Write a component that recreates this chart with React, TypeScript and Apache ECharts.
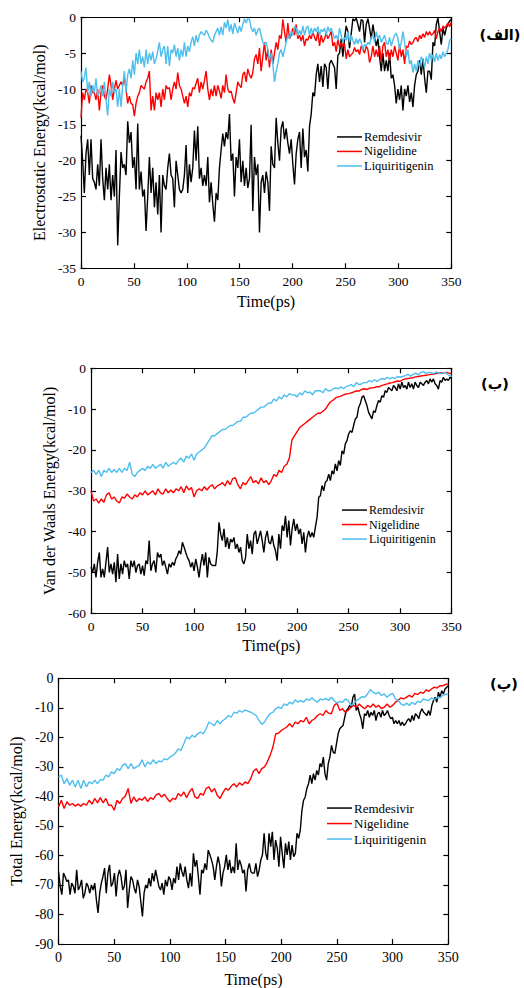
import React, { useEffect, useRef } from "react";
import * as echarts from "echarts";

// ---------------- DATA ----------------
const timeMax = 350;
const timeTicks = [0, 50, 100, 150, 200, 250, 300, 350];
const seriesNames = ["Remdesivir", "Nigelidine", "Liquiritigenin"];
const panelLabels = ["(الف)", "(ب)", "(پ)"];
const yNames = ["Electrostatic Energy(kcal/mol)", "Van der Waals Energy(kcal/mol)", "Total Energy(kcal/mol)"];
const yMins = [-35, -60, -90];
const yIntervals = [5, 10, 10];

// Electrostatic energy (values evenly spaced over 0–350 ps)
const elecRemdesivir = [
  -16.5,-20,-24.5,-19,-17,-22,-17,-22.5,-23,-24,
  -20.5,-23.5,-17,-22.5,-25.5,-21,-24,-20.5,-25.5,-22,
  -25,-18.5,-31.8,-25,-18.8,-21,-20.5,-22,-14.5,-17.5,
  -16,-21,-19.5,-24,-14.8,-24,-21.5,-25,-24,-29.8,
  -25,-19.5,-24.5,-21,-26.5,-23,-27.5,-22,-30,-22,
  -23.5,-24,-21,-19,-22,-22.5,-26.5,-20,-22,-24,
  -24.5,-24,-22,-17.8,-24.5,-20.5,-23,-21,-15.8,-20,
  -15.2,-22.5,-21,-23.5,-22,-23.5,-19.5,-25.8,-23,-26,
  -28.5,-24.5,-25.5,-21,-18.5,-16.2,-18,-16,-17,-13.5,
  -20,-19,-25,-19.5,-21,-17,-23,-20,-23.5,-21,
  -23.8,-22.5,
  -15,-27,-19.5,-22,-20.5,-30,-23,-22,-24.5,-21.5,
  -23,-27,-18,-20.5,-21,-14,-17.5,-20,-15.5,-14.5,
  -17,-15.5,-17.5,-19,-17,-20.5,-23.3,-19,-17,-16,
  -21,-15.5,-19.5,-18.5,-21.5,-15.2,-13.5,-10.5,-11,-8,
  -6.5,-9,-6.8,-9.7,-6.5,-7,-10,-6.5,-6,-6.5,
  -7,-10,-5.3,-5,-3,-5.5,-3,-1.2,-2,-4.3,
  -2.3,-0.2,-0.5,-0.1,-1,-2,-0.3,-0.5,-3.5,-1,
  -0.2,-1.5,-3,-1,-2.5,-4,-3,-5.5,-7.5,-5,
  -7.5,-6,-7.5,-5,-8.5,-8,-9.5,-12,-10,-11.5,
  -9.5,-13,-10,-11,-9.5,-11.8,-10.5,-12.5,-9.5,-8,
  -7.5,-6,-8,-5.8,-8.5,-10.5,-7.5,-7.5,-8.7,-3.5,
  -4,-1,-0.1,-2,-3.8,-1.5,-2.5,-1.5,-1,-0.5,
  -0.3,
];
const elecNigelidine = [
  -14,-10.5,-11.5,-10,-10.5,-12,-9.5,-10.5,-10.5,-11.5,
  -10,-13,-10.5,-9.5,-11,-11.5,-10,-8,-9.5,-11.5,
  -10,-8.8,-10,-9.5,-9,-9.5,-8.5,-10,-12,-11,
  -12,-12.2,-13.8,-12,-11,-10.5,-9.5,-9.8,-10,-9,
  -8.5,-7.5,-13,-11,-13,-10.5,-11.5,-10.5,-12.5,-10,
  -11.5,-9.5,-10,-9.8,-11.5,-10,-9,-10,-7.7,-9.5,
  -10,-11,-12,-11,-12.5,-10.5,-11,-9.8,-10,-9.2,
  -8.5,-10.5,-9,-10,-8.8,-7.5,-10,-11.5,-10,-11,
  -9.5,-11,-9.5,-10.3,-11.3,-9.5,-10.5,-8,-10,-10.5,
  -10.3,-11.3,-12,-10.5,-9,-9.5,-9.8,-8,-7.6,-9,
  -7.2,-8,
  -8.5,-7.7,-5.8,-5.2,-6.5,-4.3,-7.5,-5.5,-3.5,-6,
  -4.5,-7,-4.5,-6.5,-5,-3.5,-4.5,-2.5,-3,-0.3,
  -2,-3.5,-0.8,-3,-2.5,-1.5,-2.5,-1,-3,-2.5,
  -3.3,-2.5,-4,-3,-3.2,-2.5,-3,-2,-2.8,-3.3,
  -2,-4,-2.5,-3.5,-3,-2.2,-3,-2.5,-2,-4,
  -3.5,-4.8,-3,-4.2,-3.5,-4,-3.7,-5.8,-4.5,-5.5,
  -5.2,-5,-4.2,-4.8,-4.5,-5.2,-4,-4.5,-5,-4,
  -4.5,-6.3,-5.5,-4,-5.5,-4.5,-5.5,-4,-6.2,-4,
  -3.5,-5.5,-4.5,-6,-4.5,-5.5,-4,-5,-6,-3.8,
  -5.5,-4.5,-6.5,-4,-4.2,-3.3,-3.8,-3.5,-3,-2.8,
  -3.4,-2.5,-3,-2.3,-2.8,-2,-2.5,-2,-2.5,-2.3,
  -1.8,-3,-2,-1.5,-2,-1.2,-1.5,-1.2,-0.8,-1.3,
  -0.7,
];
const elecLiquiritigenin = [
  -7.5,-9,-8.5,-7,-10.5,-9,-11,-9.5,-10.5,-8.5,
  -11,-10.5,-9.5,-11,-9,-11.5,-13.7,-10,-11,-9,
  -10.5,-10,-12.5,-10,-12.5,-9.5,-7.5,-10.5,-8,-7.2,
  -8.5,-6,-8,-5,-6.5,-4.5,-6.5,-5.5,-7,-4.5,
  -6.5,-5,-6,-4.8,-6.5,-5.8,-4.7,-3.5,-5.5,-4.5,
  -4,-6.5,-4,-6.8,-4.5,-5,-3.8,-5.5,-4.3,-6,
  -4.5,-5.5,-3.5,-5.5,-4,-4.8,-3.5,-2.7,-4,-2.5,
  -3.5,-2.5,-2,-2.3,-2.5,-1.8,-2.2,-2.8,-3.2,-3.5,
  -2.5,-2,-1.5,-2.5,-1.3,-2.5,-0.7,-1.5,-0.3,-2,
  -1,-2.3,-0.8,-1.5,-2.2,-1.2,-2,-1,-0.2,-0.8,
  -0.1,-0.3,
  -1.5,-2,-1.5,-2.5,-1.8,-1.5,-2.5,-3.5,-3.8,-3.5,
  -4.5,-6,-5,-6.5,-9,-7.5,-6.5,-5,-4.5,-5.5,
  -4.5,-3.5,-2.5,-3,-2,-2.5,-1.3,-1.5,-2.5,-1.8,
  -2.5,-1.2,-2.5,-1.5,-1.2,-2.5,-1.5,-2.3,-1.5,-2,
  -1.3,-2.5,-1.7,-2,-1.5,-2.5,-1.3,-2,-1.5,-2.2,
  -3,-2.5,-3.2,-1.5,-2.5,-3.5,-2.8,-3.2,-2,-3.5,
  -2.5,-3.2,-3.8,-3,-3.7,-3,-3.5,-4.5,-3.8,-4,
  -3.5,-3.8,-2.8,-2.5,-3.5,-2,-3,-2.5,-3.5,-3,
  -2.5,-3.5,-3.8,-2.8,-4,-3.2,-2.5,-2.2,-3,-4.5,
  -3.5,-2,-3.5,-5.5,-4.5,-6.5,-6,-7.7,-6.5,-7.5,
  -6,-7,-5.5,-6,-7,-5.5,-6.5,-5,-6,-5.2,
  -6.2,-5,-6,-5.2,-5.8,-4.8,-5.5,-5,-4.5,-3.2,
  -3,
];

// Van der Waals energy
const vdwRemdesivir = [
  -48.7,-50,-47.9,-51.2,-47.5,-45.1,-51.2,-49.1,-51.2,-47.5,
  -43.8,-50,-47.9,-50.4,-47.5,-52.4,-45.5,-51.6,-47.9,-50.4,
  -47.1,-48.7,-47.9,-51.6,-47.1,-48.7,-47.1,-50,-48.3,-47.9,
  -50.4,-48.3,-50.8,-47.1,-47.9,-42.2,-49.6,-47.9,-47.1,-50,
  -45.1,-46.3,-45.5,-48.3,-47.1,-48.7,-50.4,-47.9,-48.7,-47.5,
  -48.3,-46.7,-45.9,-44.7,-45.5,-42.6,-43.8,-45.1,-46.3,-47.1,
  -48.7,-47.5,-49.6,-46.7,-48.7,-51.2,-47.9,-45.5,-48.3,-45.1,
  -51.2,-46.3,-47.9,-48.3,-48.3,-48.3,-44.7,-37.7,-40.6,-42.2,
  -39.3,-43.8,-41.4,-44.2,-41.8,-42.6,-41.4,-44.2,-43,-45.1,
  -43.8,-47.1,-47.9,-46.3,-40.6,-44.2,-42.2,-45.5,-40.6,-39.8,
  -43,-41.4,-39.8,-42.2,-45.1,-41.4,-39.8,-42.6,-43,-41,
  -43.4,
  -44.7,-47.1,-40.6,-44.2,-38.5,-39.8,-36.1,-41.4,-37.3,-43.4,
  -39.3,-36.9,-39.8,-38.1,-40.6,-39.3,-43,-40.2,-45.1,-41.4,
  -39.8,-41.4,-40.2,-41.4,-38.9,-36.5,-31.6,-31.2,-28.7,-30,
  -27.9,-27.5,-25.9,-27.5,-25.1,-25.9,-23.4,-25.1,-22.6,-23.8,
  -20.2,-21,-18.5,-17.7,-16.1,-15.3,-15.7,-14,-12.4,-12,
  -9.6,-8.7,-7.1,-6.7,-7.9,-9.1,-10.8,-11.6,-12.4,-10.4,
  -10.8,-9.1,-7.9,-8.3,-6.7,-7.1,-5.5,-5.9,-4.7,-5.1,
  -5.5,-4.2,-4.7,-5.5,-3.8,-5.1,-3.4,-4.7,-4.2,-5.1,
  -3.4,-4.7,-3.8,-5.1,-3.4,-4.2,-4.7,-3.4,-3.8,-4.2,
  -3.4,-3,-3.8,-2.6,-3.4,-2.6,-3.8,-4.2,-5.1,-3,
  -3.4,-2.2,-3,-2.6,-3,-2.2,-2.6,
];
const vdwNigelidine = [
  -30,-32.5,-32,-33,-32,-32.8,-31,-30.5,-32,-31.5,
  -32.5,-33,-31.5,-31.8,-30.8,-31.5,-32,-31,-31.5,-30.5,
  -31,-30,-31,-30.5,-30,-31,-29.5,-30.5,-30.8,-29.5,
  -30.5,-29.8,-30.5,-29.5,-30,-29,-30.5,-28.8,-29.8,-29.2,
  -31.5,-30,-29.5,-30,-29,-29.8,-29,-28.5,-29.5,-28.8,
  -28.5,-28,-28.8,-27.5,-28.5,-27,-26.8,-28.5,-29.5,-28,
  -28.5,-27.5,-26.5,-28,-27.5,-28.3,-26.8,-28,-27.5,-28.5,
  -27.5,-26,-26.5,-25,-25.5,-24,-23.5,-22,-17.5,-16.5,
  -15.5,-14.5,-14,-13.5,-13,-12.5,-12,-11.5,-11,-11,
  -10.5,-10,-9,-8.2,-7.8,-7.2,-7,-6.8,-6.5,-6.3,
  -6.2,-6,-5.8,-5.5,-5.6,-5.2,-5,-5.2,-4.9,-4.8,
  -4.7,-4.5,-4.5,-4.2,-4,-3.8,-3.6,-3.5,-3.3,-3.1,
  -3.2,-2.8,-2.6,-2.5,-2.4,-2.3,-2.1,-2,-1.9,-1.8,
  -1.7,-1.6,-1.5,-1.4,-1.3,-1.2,-1.1,-1.1,-1,-1.2,
  -1.4,
];
const vdwLiquiritigenin = [
  -25.5,-25,-26,-25,-26.5,-25,-25.5,-24.5,-25.5,-24.8,
  -25.5,-24.5,-25.5,-24.5,-25,-23,-26,-26.5,-25.5,-25,
  -24.5,-25,-24,-24.5,-23.5,-24.5,-24,-23.5,-24.5,-23,
  -24,-23.5,-23,-23.5,-22.5,-22,-23,-21.5,-22,-21,
  -22.5,-21,-20.5,-20,-19.5,-18.5,-17.5,-16.5,-16.5,-16,
  -15.5,-15,-15,-14.5,-14,-14,-13.5,-13,-13,-12,
  -12,-11.5,-11,-11,-10.5,-10,-9.5,-9.5,-9,-8.5,
  -8.5,-7.5,-8,-7,-7.5,-6.5,-7,-6.2,-6.5,-6.5,
  -7,-6,-6.5,-5.5,-6,-5.8,-6.5,-5.5,-5.5,-5.5,
  -6,-5,-5.5,-5.5,-5,-4.8,-5,-4.5,-5,-4.5,
  -4.3,-4,-4.5,-3.5,-4,-3.8,-3.5,-3.5,-3,-3.3,
  -2.8,-3.2,-2.8,-2.5,-2.7,-2.2,-2.6,-2.2,-2.5,-2,
  -2.2,-2,-1.8,-1.5,-1.9,-1.5,-1.2,-1.6,-1,-0.8,
  -1.3,-1,-1.1,-1.3,-0.9,-1.2,-1.3,-1,-1.2,-1.8,
  -2,
];

// Total energy
const totRemdesivir = [
  -65.5,-70.5,-73.3,-66,-67.2,-68.8,-68.3,-73.3,-69.4,-70.5,
  -72.8,-64.9,-71.7,-70.5,-68.3,-74.5,-72.8,-69.4,-70.5,-72.8,
  -70,-71.7,-69.4,-75,-79.5,-72.8,-69.4,-67.2,-64.3,-72.8,
  -66,-63.2,-70.5,-69.4,-66,-73.9,-67.2,-64.9,-67.2,-71.7,
  -70.5,-64.9,-77.8,-71.7,-67.2,-68.3,-71.1,-72.8,-68.3,-70.5,
  -75.6,-80.7,-72.8,-70,-71.1,-67.7,-70.5,-66,-68.8,-64.9,
  -67.7,-70.5,-71.7,-69.4,-73.3,-68.3,-70.5,-67.2,-68.3,-71.7,
  -67.7,-69.4,-63.8,-68.3,-62.7,-65.5,-67.2,-63.8,-68.3,-71.1,
  -66,-70.5,-59.3,-63.8,-61.6,-67.2,-73.3,-64.9,-66,-62.7,
  -64.9,-58.2,-59.8,-61.5,-63.8,-68.3,-63.8,-60.4,-63.2,-70.5,
  -66,-63.8,-59.8,-64.9,-61.5,-66,-63.8,-66,-55.9,-64.9,
  -61.5,-63.2,-66,-64.9,-72.2,-64.9,-62.7,-65.5,-66,
  -66,-62.7,-67.2,-64.9,-61.5,-59.8,-52.5,-59.3,-61.5,-52.5,
  -57,-52,-61.5,-54.8,-57.6,-63.8,-53.7,-59.3,-64.3,-55.9,
  -59.8,-55.3,-61.5,-56.5,-60.4,-59.3,-52.5,-54.2,-51.4,-44.7,
  -41.3,-40.2,-37.3,-35.7,-32.8,-35.7,-32.3,-34.5,-31.2,-32.8,
  -28.9,-30,-26.7,-32.3,-34.5,-28.9,-26.7,-22.7,-25,-25.5,
  -22.2,-18.8,-17.1,-16.5,-16,-13.2,-10.9,-10.3,-9.2,-9.8,
  -6.4,-5.3,-10.9,-9.8,-12,-13.7,-17.1,-12,-12.6,-10.9,
  -13.2,-11.5,-12.6,-10.9,-14.3,-12,-11.5,-13.2,-10.9,-12.6,
  -12,-10.9,-12.6,-13.7,-13.2,-15.4,-14.3,-15.4,-14.3,-16,
  -14.8,-16,-15.4,-14.3,-13.7,-14.8,-12.6,-14.3,-12,-12.6,
  -13.7,-11.5,-10.3,-11.5,-12,-12.6,-10.9,-12.6,-9.2,-7.5,
  -6.4,-8.1,-4.7,-6.4,-4.2,-5.3,-3.6,-3,-2.5,
];
const totNigelidine = [
  -43.5,-41.3,-44.1,-41.8,-43,-42.4,-43.3,-42.6,-43.3,-42.4,
  -43,-41.3,-42.6,-40.7,-42.2,-40.4,-42.2,-40.7,-43,-43,
  -44.7,-41.3,-42.4,-40.7,-39.9,-37.3,-42.4,-40.2,-41.8,-40.7,
  -41.3,-40.2,-41.8,-40.4,-41,-39.6,-39,-40.2,-39.3,-40.7,
  -41.8,-40.7,-41,-39,-39.9,-38.5,-40.4,-38.5,-37.3,-40.2,
  -40.7,-39,-39.6,-37.3,-36.8,-38.5,-37.3,-39.6,-40.7,-38.8,
  -37.3,-37.9,-36.6,-35.7,-36.8,-35.4,-36.2,-35.1,-35.7,-34,
  -31.5,-30.6,-32.3,-30.6,-30,-28.3,-26.1,-23.3,-18.8,-18.6,
  -17.7,-17.1,-16.5,-15.4,-16.5,-14.8,-15.4,-14.3,-14.8,-13.2,
  -15.4,-14.3,-13.7,-12.6,-12,-12.6,-10.9,-11.8,-12,-9.2,
  -8.4,-10.9,-10.3,-11.5,-10.9,-9.8,-9.2,-9.8,-8.7,-9.6,
  -10.3,-9.2,-9.8,-8.7,-9.8,-9.2,-10.3,-9.8,-8.7,-9.8,
  -9.2,-8.1,-7.5,-6.6,-7,-6.4,-5.8,-6.4,-5.1,-5.5,
  -4.7,-5.1,-3.9,-4.4,-3.6,-3,-3.3,-2.5,-2.5,-2.1,
  -1.9,
];
const totLiquiritigenin = [
  -33.4,-32.8,-35.7,-34,-36.2,-34.5,-36.8,-34.5,-37.3,-34.5,
  -36.8,-35.1,-35.7,-34.5,-35.7,-34.3,-34.5,-32.8,-33.4,-31.7,
  -32.3,-30.6,-31.2,-29.5,-28.9,-30.6,-28.9,-30.6,-30,-29.5,
  -27.6,-30,-28.3,-29.1,-27.6,-28.9,-28,-28.3,-27.2,-27.6,
  -26.7,-26.1,-25.3,-23.9,-24.4,-22.2,-19.9,-20.5,-19.3,-19.9,
  -18.8,-18.2,-18.8,-17.1,-14.8,-15.4,-16,-14.3,-15.4,-14.3,
  -13.7,-12.6,-13.2,-11.5,-11.8,-10.9,-11.5,-10.7,-11.1,-11.5,
  -12,-12.6,-14.3,-15.6,-14.8,-13.2,-12,-11.5,-10.3,-9.8,
  -10.3,-8.7,-9.2,-8.1,-8.7,-7.3,-8.1,-7.5,-8.1,-7,
  -7.5,-6.6,-7.5,-8.1,-7,-7.3,-6.8,-7.5,-6.4,-7.5,
  -8.4,-7.8,-8.1,-7,-7.5,-9.2,-8.7,-7.5,-7,-6.2,
  -6.4,-5.3,-3.8,-4.7,-5.3,-4.7,-5.8,-5.3,-6.4,-5.5,
  -5.1,-7,-7.5,-8.7,-9.2,-8.4,-9.2,-8.1,-8.9,-7.8,
  -8.1,-7,-7.3,-7.5,-6.6,-7.3,-6.4,-6.6,-5.8,-5.5,
  -5.3,
];

// ---------------- LAYOUT / STYLE ----------------
const FONT = "Liberation Serif";
const ARABIC_FONT = "DejaVu Sans";
const COLORS = ["#000000", "#ff0000", "#4dbeee"];

const panelSeries = [
  [elecRemdesivir, elecNigelidine, elecLiquiritigenin],
  [vdwRemdesivir, vdwNigelidine, vdwLiquiritigenin],
  [totRemdesivir, totNigelidine, totLiquiritigenin],
];

const layout = [
  { grid: { left: 81, top: 17.3, width: 370.3, height: 251 }, xGap: 25, yGap: 27, tick: 13.5,
    legend: { left: 337, top: 129.7, font: 12.5, lh: 14.5 }, label: { x: 500, y: 35 } },
  { grid: { left: 91, top: 368.3, width: 360.7, height: 245 }, xGap: 24, yGap: 28, tick: 13.5,
    legend: { left: 342, top: 502.8, font: 12, lh: 14.5 }, label: { x: 495, y: 384 } },
  { grid: { left: 54.3, top: 678.3, width: 394, height: 266.7 }, xGap: 27, yGap: 31, tick: 14,
    legend: { left: 327, top: 800.3, font: 13, lh: 15.5 }, label: { x: 504, y: 684 } },
];

const toPoints = (vals: number[]) =>
  vals.map((v, i) => [(i * timeMax) / (vals.length - 1), v]);

function buildOption() {
  const grid: any[] = [];
  const xAxis: any[] = [];
  const yAxis: any[] = [];
  const series: any[] = [];
  const legend: any[] = [];
  const graphic: any[] = [];
  const lineStyle = { color: "#000", width: 1.2 };

  layout.forEach((L, p) => {
    grid.push({ ...L.grid, containLabel: false });
    const xCommon = {
      gridIndex: p, type: "value", min: timeTicks[0], max: timeMax, interval: 50,
      splitLine: { show: false },
      axisLine: { show: true, onZero: false, lineStyle },
      axisTick: { show: true, inside: true, length: 5, lineStyle },
    };
    xAxis.push({
      ...xCommon, position: "bottom",
      name: "Time(ps)", nameLocation: "middle", nameGap: L.xGap,
      nameTextStyle: { fontFamily: FONT, fontSize: 16, color: "#000", fontWeight: "normal" },
      axisLabel: { fontFamily: FONT, fontSize: L.tick, color: "#000", margin: 6 },
    });
    xAxis.push({ ...xCommon, position: "top", axisLabel: { show: false } });
    const yCommon = {
      gridIndex: p, type: "value", min: yMins[p], max: 0, interval: yIntervals[p],
      splitLine: { show: false },
      axisLine: { show: true, onZero: false, lineStyle },
      axisTick: { show: true, inside: true, length: 5, lineStyle },
    };
    yAxis.push({
      ...yCommon, position: "left",
      name: yNames[p], nameLocation: "middle", nameGap: L.yGap, nameRotate: 90,
      nameTextStyle: { fontFamily: FONT, fontSize: 16, color: "#000", fontWeight: "normal" },
      axisLabel: { fontFamily: FONT, fontSize: L.tick, color: "#000", margin: 5 },
    });
    yAxis.push({ ...yCommon, position: "right", axisLabel: { show: false } });

    panelSeries[p].forEach((vals, s) => {
      series.push({
        type: "line", name: seriesNames[s],
        xAxisIndex: 2 * p, yAxisIndex: 2 * p,
        data: toPoints(vals),
        showSymbol: false, symbol: "none",
        lineStyle: { color: COLORS[s], width: 1.4 },
        itemStyle: { color: COLORS[s] },
        clip: true,
      });
    });

    legend.push({
      orient: "vertical", left: L.legend.left, top: L.legend.top,
      icon: "rect", itemWidth: 25, itemHeight: 1.5, itemGap: 0, padding: 0,
      selectedMode: false, data: seriesNames,
      textStyle: { fontFamily: FONT, fontSize: L.legend.font, color: "#000",
        lineHeight: L.legend.lh, padding: [0, 0, 0, -3] },
    });

    graphic.push({
      type: "text", x: L.label.x, y: L.label.y,
      style: {
        text: panelLabels[p], fill: "#000",
        fontFamily: ARABIC_FONT, fontSize: 14.5, fontWeight: "bold",
        align: "center", verticalAlign: "middle",
        textAlign: "center", textVerticalAlign: "middle",
      },
    });
  });

  return {
    animation: false, backgroundColor: "#fff",
    textStyle: { fontFamily: FONT },
    grid, xAxis, yAxis, series, legend, graphic,
  };
}

export default function App() {
  const ref = useRef<HTMLDivElement>(null);
  useEffect(() => {
    if (!ref.current) return;
    const chart = echarts.init(ref.current, undefined, { renderer: "svg" });
    chart.setOption(buildOption() as any);
    return () => chart.dispose();
  }, []);
  return (
    <div
      ref={ref}
      style={{ position: "fixed", left: 0, top: 0, width: 524, height: 988, background: "#fff" }}
    />
  );
}
